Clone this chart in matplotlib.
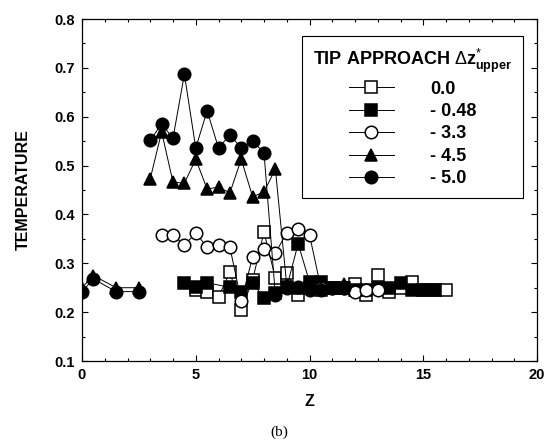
import matplotlib
matplotlib.use('Agg')
import matplotlib.pyplot as plt
import numpy as np

plt.rcParams['font.family'] = ['Liberation Sans', 'DejaVu Sans']
plt.rcParams['mathtext.fontset'] = 'custom'
plt.rcParams['mathtext.rm'] = 'Liberation Sans'
plt.rcParams['mathtext.bf'] = 'Liberation Sans:bold'

# tip approach  0.0  (open squares)
z_sq_open = [5.0, 5.5, 6.0, 6.5, 7.0, 7.5, 8.0, 8.5, 9.0, 9.5, 10.0, 10.5, 11.0, 11.5,
             12.0, 12.5, 13.0, 13.5, 14.0, 14.5, 15.0, 15.5, 16.0]
t_sq_open = [0.245, 0.241, 0.231, 0.282, 0.204, 0.266, 0.364, 0.270, 0.280, 0.235, 0.250,
             0.245, 0.250, 0.250, 0.258, 0.235, 0.276, 0.241, 0.250, 0.262, 0.245, 0.245, 0.245]

# -0.48 (filled squares)
z_sq_fill = [4.5, 5.0, 5.5, 6.5, 7.0, 7.5, 8.0, 8.5, 9.0, 9.5, 10.0, 10.5, 11.0, 11.5,
             12.0, 12.5, 13.0, 13.5, 14.0, 14.5, 15.0, 15.5]
t_sq_fill = [0.260, 0.251, 0.260, 0.251, 0.241, 0.260, 0.229, 0.240, 0.251, 0.340, 0.262,
             0.262, 0.250, 0.250, 0.245, 0.245, 0.250, 0.250, 0.260, 0.245, 0.245, 0.245]

# -3.3 (open circles)
z_ci_open = [3.5, 4.0, 4.5, 5.0, 5.5, 6.0, 6.5, 7.0, 7.5, 8.0, 8.5, 9.0, 9.5, 10.0,
             10.5, 11.0, 11.5, 12.0, 12.5, 13.0]
t_ci_open = [0.358, 0.358, 0.337, 0.362, 0.333, 0.337, 0.333, 0.223, 0.313, 0.329, 0.321,
             0.362, 0.370, 0.358, 0.250, 0.250, 0.250, 0.241, 0.245, 0.245]

# -4.5 (triangles), gap between z=2.5 and z=3.0
z_tri = [0.0, 0.5, 1.5, 2.5, np.nan, 3.0, 3.5, 4.0, 4.5, 5.0, 5.5, 6.0, 6.5, 7.0, 7.5,
         8.0, 8.5, 9.0, 9.5, 10.0, 10.5, 11.0, 11.5]
t_tri = [0.250, 0.275, 0.250, 0.250, np.nan, 0.473, 0.569, 0.466, 0.464, 0.513, 0.452,
         0.456, 0.444, 0.513, 0.436, 0.446, 0.493, 0.255, 0.250, 0.255, 0.250, 0.250, 0.258]

# -5.0 (filled circles)
z_ci_fill = [0.0, 0.5, 1.5, 2.5, np.nan, 3.0, 3.5, 4.0, 4.5, 5.0, 5.5, 6.0, 6.5, 7.0, 7.5,
             8.0, 8.5, 9.0, 9.5, 10.0, 10.5, 11.0, 11.5]
t_ci_fill = [0.242, 0.268, 0.242, 0.242, np.nan, 0.552, 0.585, 0.556, 0.687, 0.536, 0.612,
             0.536, 0.563, 0.536, 0.550, 0.526, 0.235, 0.250, 0.251, 0.245, 0.245, 0.250, 0.250]

labels = ['0.0', '- 0.48', '- 3.3', '- 4.5', '- 5.0']

fig = plt.figure(figsize=(5.48, 4.44), dpi=100)
ax = fig.add_axes([82 / 548, 83 / 444, 455 / 548, 342 / 444])

kw = dict(color='black', lw=0.7, markersize=9, markeredgewidth=1.1)
ax.plot(z_sq_open, t_sq_open, marker='s', mfc='white', mec='black', label=labels[0], **kw)
ax.plot(z_sq_fill, t_sq_fill, marker='s', mfc='black', mec='black', label=labels[1], **kw)
ax.plot(z_ci_open, t_ci_open, marker='o', mfc='white', mec='black', label=labels[2], **kw)
ax.plot(z_tri, t_tri, marker='^', mfc='black', mec='black', label=labels[3], **kw)
ax.plot(z_ci_fill, t_ci_fill, marker='o', mfc='black', mec='black', label=labels[4], **kw)

ax.set_xlim(0, 20)
ax.set_ylim(0.1, 0.8)
ax.set_xticks([0, 5, 10, 15, 20])
ax.set_xticks(np.arange(0, 21, 1), minor=True)
ax.set_yticks(np.arange(0.1, 0.81, 0.1))
ax.set_yticks(np.arange(0.1, 0.81, 0.05), minor=True)
ax.set_yticklabels(['0.1', '0.2', '0.3', '0.4', '0.5', '0.6', '0.7', '0.8'])
ax.tick_params(which='both', direction='in', top=True, right=True, width=0.8)
ax.tick_params(which='major', length=4, labelsize=10.5, pad=5)
ax.tick_params(which='minor', length=2)
for lab in ax.get_xticklabels() + ax.get_yticklabels():
    lab.set_fontweight('bold')
for s in ax.spines.values():
    s.set_linewidth(0.9)

ax.set_xlabel('Z', fontsize=11.5, fontweight='bold', labelpad=9)
ax.set_ylabel('TEMPERATURE', fontsize=11.5, fontweight='bold', labelpad=17)

leg = ax.legend(loc='upper right', bbox_to_anchor=(0.969, 0.950), borderaxespad=0,
                title=r'TIP APPROACH $\Delta\mathbf{z}^{*}_{\mathbf{upper}}$',
                fancybox=False, framealpha=1, edgecolor='black', numpoints=1,
                handlelength=2.5, handletextpad=2.0, labelspacing=0.3,
                prop={'weight': 'bold', 'size': 13},
                title_fontproperties={'weight': 'bold', 'size': 13},
                borderpad=0.6)
leg.get_frame().set_linewidth(0.8)

fig.text(279 / 548, 1 - 432 / 444, '(b)', family='Liberation Serif', fontsize=11,
         ha='center', va='center')

fig.savefig('out.png', dpi=100)
